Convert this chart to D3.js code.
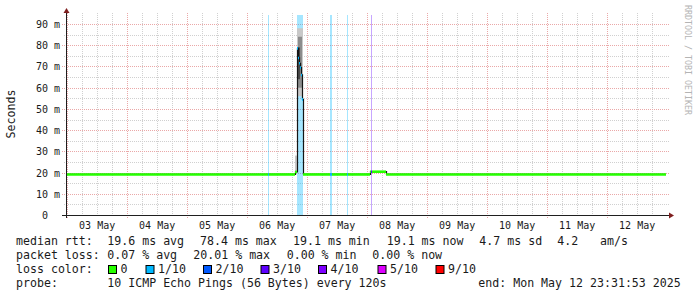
<!DOCTYPE html>
<html>
<head>
<meta charset="utf-8">
<script src="https://cdn.jsdelivr.net/npm/d3@7"></script>
<style>
  body { margin: 0; background: #fff; }
  text { font-family: "DejaVu Sans Mono", monospace; fill: #1a1a1a; }
</style>
</head>
<body>
<svg id="chart" width="697" height="297"></svg>
<script>
// ---- data ----
var endTime = "2025-05-12 23:31:53";
var yTickValues = [0, 10, 20, 30, 40, 50, 60, 70, 80, 90];
var dayTicks = ["2025-05-03", "2025-05-04", "2025-05-05", "2025-05-06", "2025-05-07",
                "2025-05-08", "2025-05-09", "2025-05-10", "2025-05-11", "2025-05-12"];

// median rtt in ms: [start of run, value, loss class]
var medianRuns = [
  ["2025-05-02 23:32", 19.1, 0],
  ["2025-05-06 08:20", 19.1, 1],
  ["2025-05-06 08:44", 19.1, 0],
  ["2025-05-06 19:08", 20.3, 0],
  ["2025-05-06 19:56", 78.5, 1],
  ["2025-05-06 20:20", 74.0, 1],
  ["2025-05-06 20:44", 71.5, 1],
  ["2025-05-06 21:08", 69.5, 1],
  ["2025-05-06 21:32", 66.0, 1],
  ["2025-05-06 21:56", 54.5, 1],
  ["2025-05-06 22:20", 19.1, 0],
  ["2025-05-07 09:08", 19.1, 1],
  ["2025-05-07 09:56", 19.1, 0],
  ["2025-05-07 15:56", 19.1, 1],
  ["2025-05-07 16:20", 19.1, 0],
  ["2025-05-08 01:08", 20.4, 0],
  ["2025-05-08 01:32", 20.4, 3],
  ["2025-05-08 01:56", 20.4, 0],
  ["2025-05-08 07:32", 19.1, 0]
];

// smoke (spread of the 10 pings): [start, end, low ms, high ms, shade]
var smokeBands = [
  ["2025-05-06 19:08", "2025-05-06 19:56", 19.5, 28.0, 0],
  ["2025-05-06 19:56", "2025-05-06 22:20", 56.0, 88.0, 0],
  ["2025-05-06 20:20", "2025-05-06 21:56", 60.0, 84.0, 1],
  ["2025-05-06 19:56", "2025-05-06 21:08", 64.0, 79.0, 2]
];

var lossLabels = ["0", "1/10", "2/10", "3/10", "4/10", "5/10", "9/10"];
var lossColors = ["#26ff00", "#00b8ff", "#0059ff", "#5e00ff", "#7e00ff", "#dd00ff", "#ff0000"];

var rttStats = ["median rtt:", "19.6 ms avg", "78.4 ms max", "19.1 ms min", "19.1 ms now", "4.7 ms sd", "4.2", "am/s"];
var lossStats = ["packet loss:", "0.07 % avg", "20.01 % max", "0.00 % min", "0.00 % now"];
var probeLine = ["probe:", "10 ICMP Echo Pings (56 Bytes) every 120s", "end: Mon May 12 23:31:53 2025"];

// ---- drawing ----
var svg = d3.select("#chart");
var parse = d3.timeParse("%Y-%m-%d %H:%M");
var parseFull = d3.timeParse("%Y-%m-%d %H:%M:%S");
var parseDay = d3.timeParse("%Y-%m-%d");
var end = parseFull(endTime);
var start = new Date(end - 10 * 24 * 3600e3);

var x = d3.scaleTime().domain([start, end]).range([66, 666]);
var y = d3.scaleLinear().domain([0, 94.25]).range([215, 15]);
var px = function(v) { return Math.round(v) + 0.5; };

var shades = ["#c8c8c8", "#8c8c8c", "#4a4a4a"];

var runs = medianRuns.map(function(r, i) {
  var next = medianRuns[i + 1];
  return { t0: parse(r[0]), t1: next ? parse(next[0]) : end, v: r[1], loss: r[2] };
});

// grid
var grid = svg.append("g");
var minorY = d3.range(5, 95, 10);
grid.selectAll("line.hmin").data(minorY).enter().append("line")
  .attr("x1", 64).attr("x2", 669)
  .attr("y1", function(d) { return px(y(d)); }).attr("y2", function(d) { return px(y(d)); })
  .attr("stroke", "#d0d0d0").attr("stroke-dasharray", "1,1");
grid.selectAll("line.vmin").data(d3.timeHour.every(6).range(start, end)).enter().append("line")
  .attr("x1", function(d) { return px(x(d)); }).attr("x2", function(d) { return px(x(d)); })
  .attr("y1", 13).attr("y2", 215)
  .attr("stroke", "#d0d0d0").attr("stroke-dasharray", "1,1");
grid.selectAll("line.hmaj").data(yTickValues.slice(1)).enter().append("line")
  .attr("x1", 62).attr("x2", 669)
  .attr("y1", function(d) { return px(y(d)); }).attr("y2", function(d) { return px(y(d)); })
  .attr("stroke", "#eaa8a8").attr("stroke-dasharray", "1,1");
grid.selectAll("line.vmaj").data(d3.timeDay.range(start, end)).enter().append("line")
  .attr("x1", function(d) { return px(x(d)); }).attr("x2", function(d) { return px(x(d)); })
  .attr("y1", 13).attr("y2", 219)
  .attr("stroke", "#eaa8a8").attr("stroke-dasharray", "1,1");

// loss background bars
svg.append("g").selectAll("rect").data(runs.filter(function(r) { return r.loss > 0; }))
  .enter().append("rect")
  .attr("x", function(r) { return x(r.t0); })
  .attr("width", function(r) { return x(r.t1) - x(r.t0); })
  .attr("y", 15).attr("height", 200)
  .attr("fill", function(r) { return lossColors[r.loss]; })
  .attr("fill-opacity", 0.35);

// smoke
svg.append("g").selectAll("rect").data(smokeBands).enter().append("rect")
  .attr("x", function(d) { return x(parse(d[0])); })
  .attr("width", function(d) { return x(parse(d[1])) - x(parse(d[0])); })
  .attr("y", function(d) { return y(d[3]); })
  .attr("height", function(d) { return y(d[2]) - y(d[3]); })
  .attr("fill", function(d) { return shades[d[4]]; });

// median: thin dark step line, then loss-coloured segments on top
var stepPts = runs.map(function(r) { return [x(r.t0) + 0.5, y(r.v)]; });
stepPts.push([x(end), y(runs[runs.length - 1].v)]);
svg.append("path")
  .attr("d", d3.line().curve(d3.curveStepAfter)(stepPts))
  .attr("fill", "none").attr("stroke", "#151515").attr("stroke-width", 1.2);

svg.append("g").selectAll("line").data(runs).enter().append("line")
  .attr("x1", function(r) { return x(r.t0); })
  .attr("x2", function(r) { return x(r.t1); })
  .attr("y1", function(r) { return y(r.v); })
  .attr("y2", function(r) { return y(r.v); })
  .attr("stroke", function(r) { return lossColors[r.loss]; })
  .attr("stroke-width", 2.6);

// axes
svg.append("line").attr("x1", 62).attr("x2", 670).attr("y1", 215.5).attr("y2", 215.5)
  .attr("stroke", "#1f1f1f");
svg.append("line").attr("x1", 66.5).attr("x2", 66.5).attr("y1", 218).attr("y2", 12)
  .attr("stroke", "#1f1f1f");
svg.append("path").attr("d", "M669,212.5L674,215.5L669,218.5Z").attr("fill", "#7f1f1f");
svg.append("path").attr("d", "M63.5,13L66.5,8L69.5,13Z").attr("fill", "#7f1f1f");

// y labels
svg.append("g").selectAll("text").data(yTickValues).enter().append("text")
  .attr("x", function(d) { return d === 0 ? 48 : 60; })
  .attr("y", function(d) { return px(y(d)) + 3.5; })
  .attr("text-anchor", "end")
  .style("font-size", "10px")
  .text(function(d) { return d === 0 ? "0" : d + " m"; });

// x labels at noon
var fmt = d3.timeFormat("%d %b");
svg.append("g").selectAll("text").data(dayTicks).enter().append("text")
  .attr("x", function(d) { return x(d3.timeHour.offset(parseDay(d), 12)); })
  .attr("y", 228.5)
  .attr("text-anchor", "middle")
  .style("font-size", "10px")
  .text(function(d) { return fmt(parseDay(d)); });

// vertical axis title
svg.append("text")
  .attr("transform", "translate(14.5,114) rotate(-90)")
  .attr("text-anchor", "middle")
  .style("font-size", "11.6px")
  .text("Seconds");

// watermark
svg.append("text")
  .attr("transform", "translate(685,5) rotate(90)")
  .style("font-size", "8.3px")
  .style("fill", "#b4b4b4")
  .text("RRDTOOL / TOBI OETIKER");

// legend
var legend = svg.append("g").style("font-size", "11.6px");
var rowY = [244.5, 258.8, 273, 287.3];
var rttX = [16, 107.3, 200, 293, 386.7, 479.3, 557.3, 600];
var lossX = [16, 107.3, 193.3, 286.7, 372.3];
var boxX = [108.5, 146, 203.5, 261, 318.5, 378, 436];
var probeX = [16, 107.3, 478.3];

legend.selectAll("text.rtt").data(rttStats).enter().append("text")
  .attr("x", function(d, i) { return rttX[i]; }).attr("y", rowY[0]).text(String);
legend.selectAll("text.loss").data(lossStats).enter().append("text")
  .attr("x", function(d, i) { return lossX[i]; }).attr("y", rowY[1]).text(String);
legend.append("text").attr("x", 16).attr("y", rowY[2]).text("loss color:");
var items = legend.selectAll("g.item").data(lossLabels).enter().append("g");
items.append("rect")
  .attr("x", function(d, i) { return boxX[i]; }).attr("y", 265.5)
  .attr("width", 8).attr("height", 8)
  .attr("fill", function(d, i) { return lossColors[i]; })
  .attr("stroke", "#000").attr("stroke-width", 1);
items.append("text")
  .attr("x", function(d, i) { return boxX[i] + 12; }).attr("y", rowY[2]).text(String);
legend.selectAll("text.probe").data(probeLine).enter().append("text")
  .attr("x", function(d, i) { return probeX[i]; }).attr("y", rowY[3]).text(String);
</script>
</body>
</html>
